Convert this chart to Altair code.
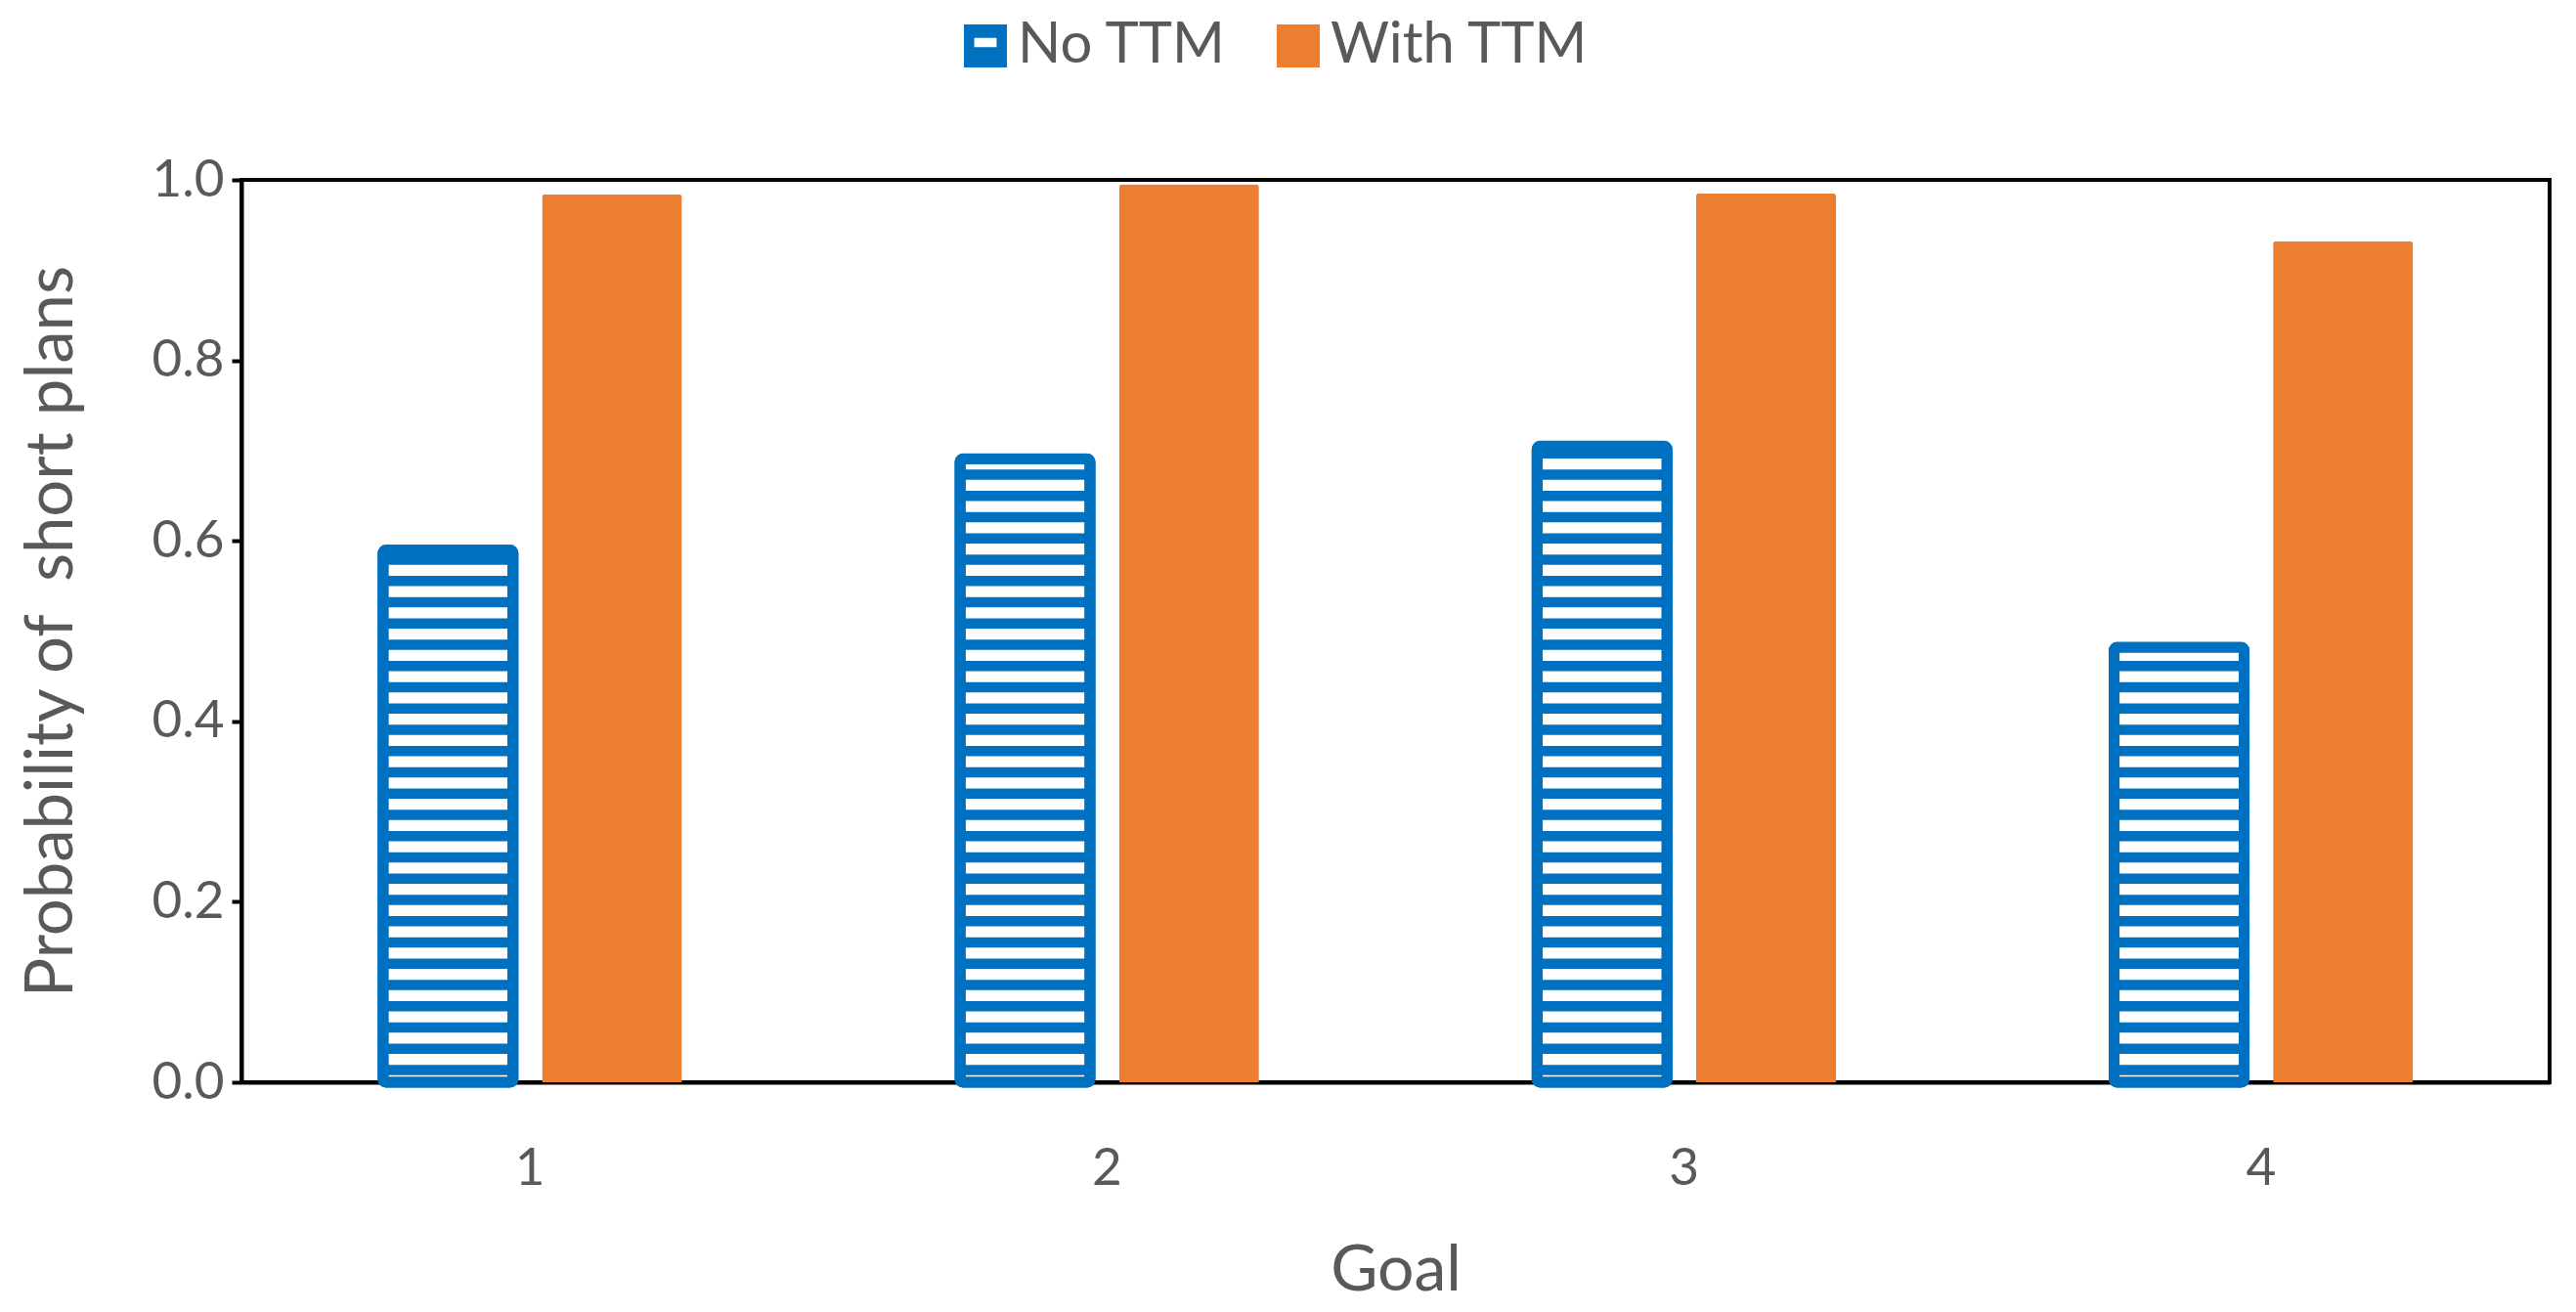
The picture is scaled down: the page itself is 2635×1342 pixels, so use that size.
import altair as alt
import pandas as pd

goals = ["1", "2", "3", "4"]
series_names = ["No TTM", "With TTM"]
no_ttm = [0.590, 0.691, 0.705, 0.482]
with_ttm = [0.984, 0.995, 0.985, 0.932]

BLUE = "#0070C0"
ORANGE = "#ED7D31"
TEXT = "#595959"
FONT = "Lato"
Y_TITLE = "Probability of\u00a0 short plans"

rows = []
for g, a, b in zip(goals, no_ttm, with_ttm):
    rows.append({"goal": g, "series": "No TTM", "value": a})
    rows.append({"goal": g, "series": "With TTM", "value": b})
df = pd.DataFrame(rows)

x_axis = alt.Axis(labelAngle=0, ticks=False, labelPadding=62, labelFont=FONT,
                  labelFontSize=53, labelColor=TEXT, domainColor="black",
                  domainWidth=4, titleFont=FONT, titleFontSize=66,
                  titleFontWeight="normal", titleColor=TEXT, titlePadding=45)
y_axis = alt.Axis(values=[0, 0.2, 0.4, 0.6, 0.8, 1.0], format=".1f", grid=False,
                  labelFont=FONT, labelFontSize=53, labelColor=TEXT, labelPadding=8,
                  tickColor="black", tickWidth=4, tickSize=10,
                  domainColor="black", domainWidth=4, titleFont=FONT,
                  titleFontSize=67, titleFontWeight="normal", titleColor=TEXT,
                  titlePadding=68)

x_enc = alt.X("goal:N", sort=goals, title="Goal", axis=x_axis,
              scale=alt.Scale(domain=goals, paddingInner=0, paddingOuter=0))
xo_enc = alt.XOffset("series:N", sort=series_names,
                     scale=alt.Scale(domain=series_names, paddingInner=0.146,
                                     paddingOuter=0.833))
y_scale = alt.Scale(domain=[0, 1])


def yq(field):
    return alt.Y(field, type="quantitative", title=Y_TITLE, axis=y_axis, scale=y_scale)


base = alt.Chart(df).transform_calculate(stripe_top="0.9", zero="0")
blue = base.transform_filter("datum.series == 'No TTM'")
orange = base.transform_filter("datum.series == 'With TTM'")

legend = alt.Legend(orient="none", legendX=732, legendY=-166, direction="horizontal",
                    columns=2, title=None, symbolSize=1936,
                    symbolType={"expr": "datum.value === 'No TTM' ? 'M-1,-1H1V1H-1Z M-0.52,-0.38V0.06H0.52V-0.38Z' : 'square'"},
                    symbolStrokeWidth=0, labelFont=FONT, labelFontSize=58,
                    labelLimit=600, labelColor=TEXT, labelOffset=4,
                    columnPadding=44, padding=0)

orange_bars = orange.mark_bar(cornerRadiusTopLeft=3, cornerRadiusTopRight=3).encode(
    x=x_enc, xOffset=xo_enc, y=yq("value"),
    color=alt.Color("series:N", scale=alt.Scale(domain=series_names, range=[BLUE, ORANGE]),
                    legend=legend))

blue_fill = blue.mark_bar(width=133, color=BLUE, stroke=BLUE, strokeWidth=11,
                          cornerRadius=3).encode(x=x_enc, xOffset=xo_enc, y=yq("value"))

stripes = blue.mark_rule(color="white", strokeWidth=122, strokeDash=[11.3, 10.45],
                         strokeDashOffset=3, strokeCap="butt").encode(
    x=x_enc, xOffset=xo_enc, y=yq("stripe_top"), y2="zero:Q")

cover = blue.mark_bar(width=150, color="white").encode(
    x=x_enc, xOffset=xo_enc, y=yq("value"), y2="stripe_top:Q")

border = blue.mark_bar(width=133, filled=False, color=BLUE, strokeWidth=11,
                       cornerRadius=3).encode(x=x_enc, xOffset=xo_enc, y=yq("value"))

chart = alt.layer(orange_bars, blue_fill, stripes, cover, border).properties(
    width=2361, height=923,
    autosize=alt.AutoSizeParams(type="none"),
    padding={"left": 239, "top": 176, "right": 10, "bottom": 225},
).configure_view(stroke="black", strokeWidth=4)

chart.save("out.html", embed_options={"renderer": "svg", "actions": False})
